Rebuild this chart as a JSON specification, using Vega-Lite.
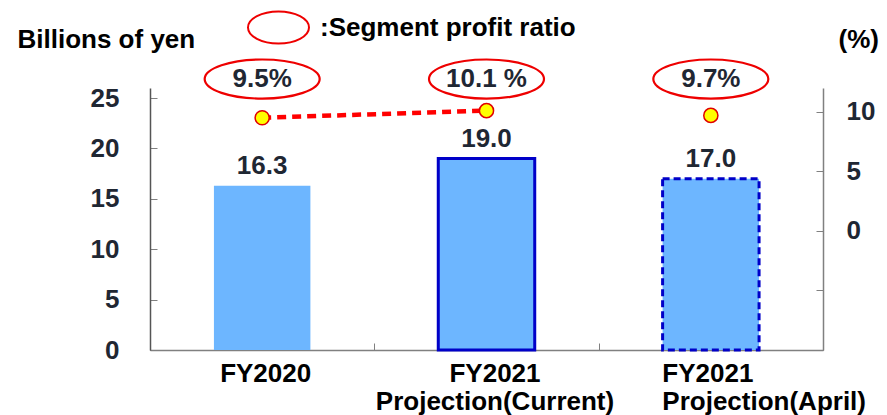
{
  "$schema": "https://vega.github.io/schema/vega-lite/v6.json",
  "width": 673,
  "height": 262,
  "autosize": {"type": "none"},
  "padding": {"left": 150, "top": 88, "right": 64, "bottom": 65},
  "config": {
    "view": {"stroke": null},
    "font": "Liberation Sans",
    "axis": {"grid": false, "labelLimit": 0},
    "legend": {"labelLimit": 0}
  },
  "data": {
    "values": [
      {"period": "FY2020", "profit": 16.3, "ratio": 9.5, "ratioLabel": "9.5%"},
      {"period": "FY2021 Projection(Current)", "profit": 19.0, "ratio": 10.1, "ratioLabel": "10.1 %"},
      {"period": "FY2021 Projection(April)", "profit": 17.0, "ratio": 9.7, "ratioLabel": "9.7%"}
    ]
  },
  "encoding": {
    "x": {
      "field": "period",
      "type": "nominal",
      "sort": null,
      "scale": {"paddingInner": 0, "paddingOuter": 0},
      "axis": {
        "title": null,
        "tickBand": "extent",
        "tickSize": -7,
        "tickColor": "#808080",
        "domainColor": "#808080",
        "domainWidth": 1.5,
        "labelAngle": 0,
        "labelFontSize": 26,
        "labelFontWeight": "bold",
        "labelColor": "#000000",
        "labelPadding": 17,
        "labelBaseline": "top",
        "labelLineHeight": 28,
        "labelAlign": {"condition": {"test": "datum.value == 'FY2021 Projection(April)'", "value": "left"}, "value": "center"},
        "labelOffset": {
          "condition": [
            {"test": "datum.value == 'FY2021 Projection(April)'", "value": -49},
            {"test": "datum.value == 'FY2021 Projection(Current)'", "value": 8}
          ],
          "value": 3
        },
        "labelExpr": "split(datum.label, ' ')"
      }
    }
  },
  "layer": [
    {
      "layer": [
        {
          "mark": {"type": "bar", "width": {"band": 0.43}, "fill": "#6db6ff", "strokeWidth": 3},
          "encoding": {
            "y": {
              "field": "profit",
              "type": "quantitative",
              "scale": {"domain": [0, 26], "nice": false},
              "axis": {
                "values": [0, 5, 10, 15, 20, 25],
                "tickSize": -7,
                "tickColor": "#808080",
                "domainColor": "#555555",
                "domainWidth": 1.5,
                "labelFontSize": 26,
                "labelFontWeight": "bold",
                "labelColor": "#1f2733",
                "labelPadding": 38,
                "title": "Billions of yen",
                "titleAngle": 0,
                "titleAlign": "left",
                "titleBaseline": "alphabetic",
                "titleX": -133,
                "titleY": -41,
                "titleFontSize": 26,
                "titleFontWeight": "bold",
                "titleColor": "#000000"
              }
            },
            "stroke": {
              "field": "period",
              "type": "nominal",
              "sort": null,
              "scale": {
                "domain": ["FY2020", "FY2021 Projection(Current)", "FY2021 Projection(April)"],
                "range": ["transparent", "#0000c8", "#0000c8"]
              },
              "legend": null
            },
            "strokeDash": {
              "field": "period",
              "type": "nominal",
              "sort": null,
              "scale": {
                "domain": ["FY2020", "FY2021 Projection(Current)", "FY2021 Projection(April)"],
                "range": [[1, 0], [1, 0], [7, 4]]
              },
              "legend": null
            }
          }
        },
        {
          "mark": {"type": "text", "dy": -12, "baseline": "alphabetic", "fontSize": 26, "fontWeight": "bold", "color": "#1f2733"},
          "encoding": {
            "y": {"field": "profit", "type": "quantitative"},
            "text": {"field": "profit", "type": "quantitative", "format": ".1f"}
          }
        }
      ]
    },
    {
      "layer": [
        {
          "transform": [{"filter": "datum.period != 'FY2021 Projection(April)'"}],
          "mark": {"type": "line", "stroke": "#ff0000", "strokeWidth": 4.5, "strokeDash": [9, 6]},
          "encoding": {
            "y": {
              "field": "ratio",
              "type": "quantitative",
              "scale": {"domain": [-10, 12], "nice": false},
              "axis": {
                "orient": "right",
                "values": [-10, -5, 0, 5, 10],
                "labelExpr": "datum.value >= 0 ? datum.label : ''",
                "tickSize": -7,
                "tickColor": "#808080",
                "domainColor": "#808080",
                "domainWidth": 1.5,
                "labelFontSize": 26,
                "labelFontWeight": "bold",
                "labelColor": "#1f2733",
                "labelPadding": 30,
                "title": "(%)",
                "titleAngle": 0,
                "titleAlign": "left",
                "titleBaseline": "alphabetic",
                "titleX": 15,
                "titleY": -41,
                "titleFontSize": 26,
                "titleFontWeight": "bold",
                "titleColor": "#000000"
              }
            }
          }
        },
        {
          "mark": {"type": "point", "filled": true, "fill": "#ffff00", "stroke": "#e00000", "strokeWidth": 1.5, "size": 200, "opacity": 1},
          "encoding": {
            "y": {"field": "ratio", "type": "quantitative"}
          }
        },
        {
          "mark": {
            "type": "point",
            "shape": "M-1,0A1,0.34,0,1,1,1,0A1,0.34,0,1,1,-1,0Z",
            "size": 13225,
            "filled": false,
            "strokeWidth": 2.2,
            "opacity": 1
          },
          "encoding": {
            "y": {"datum": 12.75},
            "stroke": {
              "datum": ":Segment profit ratio",
              "type": "nominal",
              "scale": {"range": ["#ee0000"]},
              "legend": {
                "orient": "none",
                "legendX": 97,
                "legendY": -92,
                "title": null,
                "padding": 0,
                "symbolType": "M-1,0A1,0.525,0,1,1,1,0A1,0.525,0,1,1,-1,0Z",
                "symbolSize": 3721,
                "symbolStrokeWidth": 2,
                "symbolFillColor": "transparent",
                "labelOffset": 10,
                "labelFontSize": 26,
                "labelFontWeight": "bold",
                "labelColor": "#000000"
              }
            }
          }
        },
        {
          "mark": {"type": "text", "baseline": "middle", "fontSize": 26, "fontWeight": "bold", "color": "#1f2733"},
          "encoding": {
            "y": {"datum": 12.75},
            "text": {"field": "ratioLabel", "type": "nominal"}
          }
        }
      ]
    }
  ],
  "resolve": {"scale": {"y": "independent", "stroke": "independent", "strokeDash": "independent"}}
}
